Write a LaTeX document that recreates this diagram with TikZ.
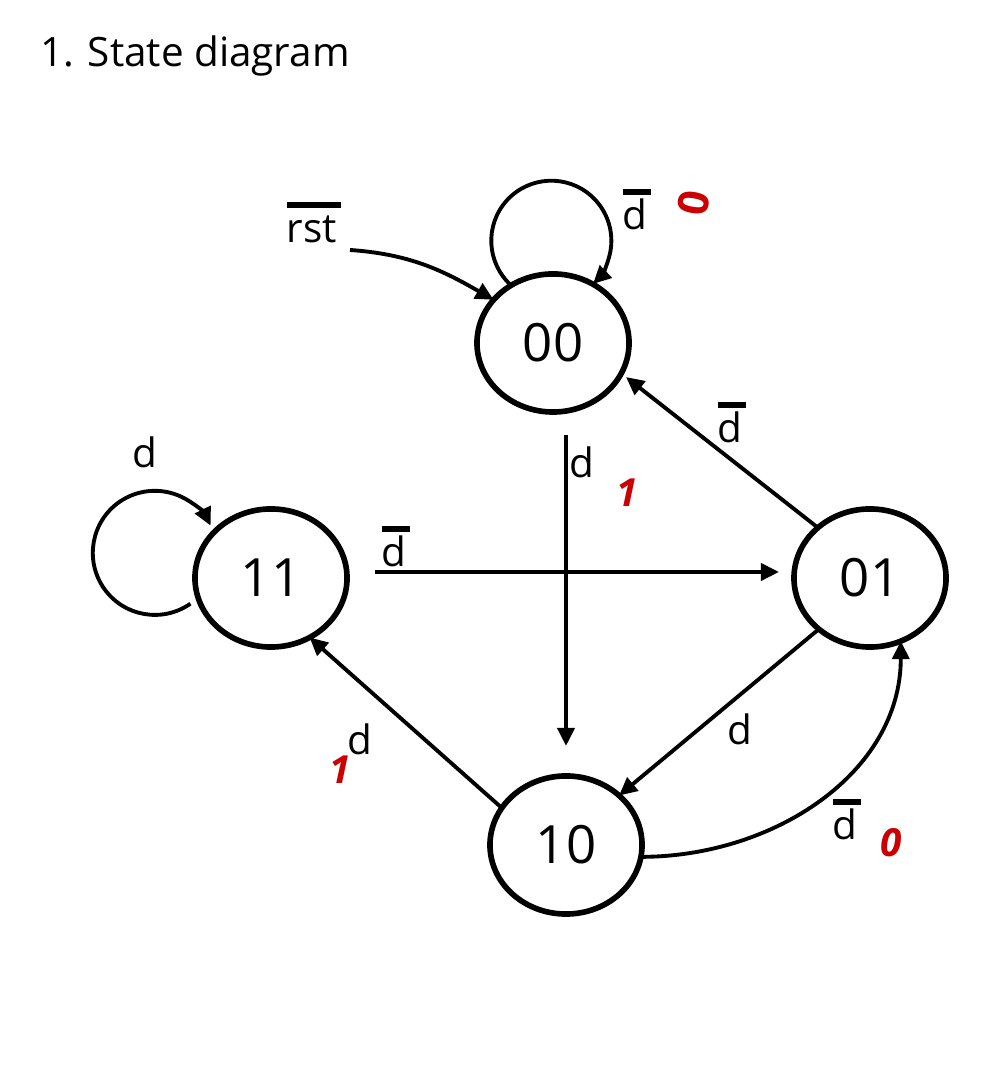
\documentclass[tikz,border=0pt]{standalone}
\usepackage{fontspec}
\setmainfont{Open Sans}
\usetikzlibrary{arrows.meta, positioning, shapes.geometric}
\definecolor{penred}{HTML}{CC0000}
% barra de negacion sobre una senal
\newcommand{\nbar}[1]{\setbox0\hbox{#1}\rlap{\rule[0.87em]{\dimexpr\wd0+1pt\relax}{1.7pt}}\box0}

\begin{document}
\begin{tikzpicture}[
        x=0.01cm, y=0.01cm,
        font=\fontsize{11.5}{14}\selectfont,
        every node/.style={inner sep=0pt, outer sep=0pt},
        % ============= Estilos =============
        state/.style={ellipse, draw, line width=1.6pt,
                      minimum width=1.52cm, minimum height=1.38cm,
                      font=\fontsize{15}{18}\selectfont},
        edge/.style={-{Triangle[length=1.8mm,width=1.7mm]}, line width=1.1pt},
        lbl/.style={anchor=base},
        penmark/.style={text=penred, font=\fontsize{11}{13}\selectfont\bfseries\itshape}
    ]
        \useasboundingbox (0,0) rectangle (1000,1083);

        % ===== Titulo =====
        \node[anchor=base west] (title) at (40,1016) {1. State diagram};

        % ===== Estados =====
        \foreach \name/\xc/\yc/\txt in {%
            s00/553/740/00,
            s11/271/505/11,
            s01/870/505/01,
            s10/566/238/10%
        }{
            \node[state] (\name) at (\xc,\yc) {\txt};
        }

        % ===== Reset =====
        \coordinate (rstin) at (350,833);
        \node[lbl] (rstlbl) at (312,840) {\nbar{rst}};
        \draw[edge] (rstin) to[out=-4, in=150] (s00.144);

        % ===== 00 =====
        \draw[edge] (s00.126) arc[start angle=228, end angle=-46, radius=0.6cm];
        \node[lbl] (d00) at (635,853) {\nbar{d}};
        \node[penmark, font=\fontsize{12}{14}\selectfont\bfseries, rotate=80] (p00) at (694,880) {0};

        \draw[edge, shorten <=0.23cm, shorten >=0.3cm] (s00.south -| s10.north) -- (s10.north);
        \node[lbl] (d0010) at (582,605) {d};
        \node[penmark] (p0010) at (627,590) {1};

        % ===== 01 =====
        \draw[edge, shorten >=0.06cm] (s01.136) -- (s00.-24);
        \node[lbl] (d0100) at (730,640) {\nbar{d}};

        \draw[edge] (s01.225) -- (s10.43);
        \node[lbl] (d0110) at (740,338) {d};

        % ===== 11 =====
        \draw[edge, shorten <=0.28cm, shorten >=0.15cm]
            ([yshift=0.06cm]s11.east) -- ([yshift=0.06cm]s01.west);
        \node[lbl] (d1101) at (394,516) {\nbar{d}};

        \draw[edge] ([xshift=-0.1cm]s11.200) arc[start angle=-55, end angle=-334, radius=0.62cm];
        \node[lbl] (d11) at (145,615) {d};

        % ===== 10 =====
        \draw[edge] (s10.150) -- (s11.-57);
        \node[lbl] (d1011) at (360,328) {d};
        \node[penmark] (p1011) at (340,313) {1};

        \draw[edge] (s10.-9) to[out=0, in=-90] (s01.-64);
        \node[lbl] (d1001) at (845,243) {\nbar{d}};
        \node[penmark] (p1001) at (891,240) {0};
    \end{tikzpicture}
\end{document}
